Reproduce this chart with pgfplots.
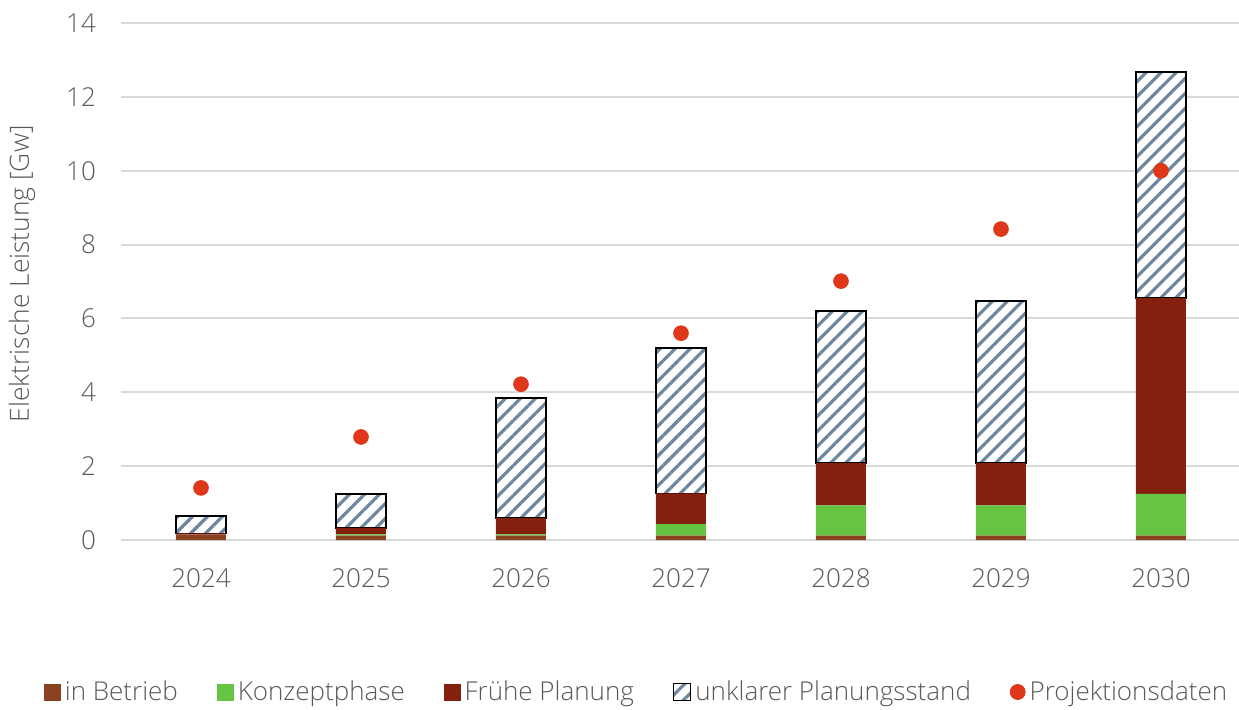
\documentclass[border=0pt]{standalone}
\usepackage{pgfplots}
\pgfplotsset{compat=1.18}
\usepackage{pgfplotstable}
\usetikzlibrary{patterns.meta}
\usepackage{fontspec}
\setmainfont{Open Sans}[UprightFont={* Light}]
\definecolor{cBetrieb}{HTML}{8B4220}
\definecolor{cKonzept}{HTML}{66C443}
\definecolor{cFrueh}{HTML}{84200E}
\definecolor{cHatch}{HTML}{6E87A0}
\definecolor{cDot}{HTML}{E0361A}
\definecolor{cText}{HTML}{595959}
\definecolor{cGrid}{HTML}{D9D9D9}
\pgfplotstableread{
x Betrieb Konzept Frueh Unklar Proj
0 0.15 0.00 0.03 0.47 1.41
1 0.12 0.03 0.18 0.91 2.79
2 0.12 0.03 0.44 3.26 4.22
3 0.12 0.31 0.83 3.94 5.60
4 0.12 0.82 1.14 4.12 7.01
5 0.12 0.82 1.14 4.39 8.42
6 0.12 1.13 5.30 6.12 10.00
}\data
\tikzset{sqlegend/.style={/pgfplots/legend image code/.code={\path[##1] (0pt,-4.25pt) rectangle (8.5pt,4.25pt);}}}
\begin{document}
\begin{tikzpicture}[font=\fontsize{13}{15}\selectfont\color{cText}]
\begin{axis}[
  name=main,
  scale only axis, width=560pt, height=258.5pt,
  xmin=-0.5, xmax=6.5, ymin=0, ymax=14,
  ybar stacked, bar width=25pt,
  axis line style={draw=none},
  tick style={draw=none},
  ymajorgrids, major grid style={cGrid, line width=1pt},
  ytick={0,2,...,14},
  xtick={0,...,6}, xticklabels={2024,2025,2026,2027,2028,2029,2030},
  /pgf/number format/assume math mode=true,
  ticklabel style={font=\fontsize{13}{15}\selectfont, text=cText},
  yticklabel style={xshift=-9pt},
  xticklabel style={yshift=-11pt},
  ylabel={Elektrische Leistung [Gw]},
  every axis y label/.style={at={(axis description cs:-0.0884,0.515)}, rotate=90, anchor=center, font=\fontsize{13.2}{15}\selectfont, text=cText},
  legend style={at={(axis description cs:-0.0745,-0.294)}, anchor=west, legend columns=-1, draw=none, fill=none,
    font=\fontsize{13}{15}\selectfont, text=cText,
    /tikz/every even column/.append style={column sep=17.4pt}},
]
\addplot[fill=cBetrieb, draw=none, sqlegend] table[x=x,y=Betrieb]{\data};
\addlegendentry{in Betrieb}
\addplot[fill=cKonzept, draw=none, sqlegend] table[x=x,y=Konzept]{\data};
\addlegendentry{Konzeptphase}
\addplot[fill=cFrueh, draw=none, sqlegend] table[x=x,y=Frueh]{\data};
\addlegendentry{Frühe Planung}
\addplot[draw=black, line width=0.8pt, fill=white, postaction={pattern={Lines[angle=45,distance=5.3pt,line width=1.6pt]}, pattern color=cHatch}, sqlegend] table[x=x,y=Unklar]{\data};
\addlegendentry{unklarer Planungsstand}
\addlegendimage{legend image code/.code={\fill[cDot] (3.75pt,0) circle (3.75pt);}}
\addlegendentry{Projektionsdaten}
\end{axis}
\begin{axis}[
  scale only axis, width=560pt, height=258.5pt,
  xmin=-0.5, xmax=6.5, ymin=0, ymax=14, hide axis]
\addplot[only marks, mark=*, mark size=3.7pt, color=cDot] table[x=x,y=Proj]{\data};
\end{axis}
\pgfresetboundingbox
\useasboundingbox (-60.5pt,-84.5pt) rectangle (559pt,270pt);
\end{tikzpicture}
\end{document}
